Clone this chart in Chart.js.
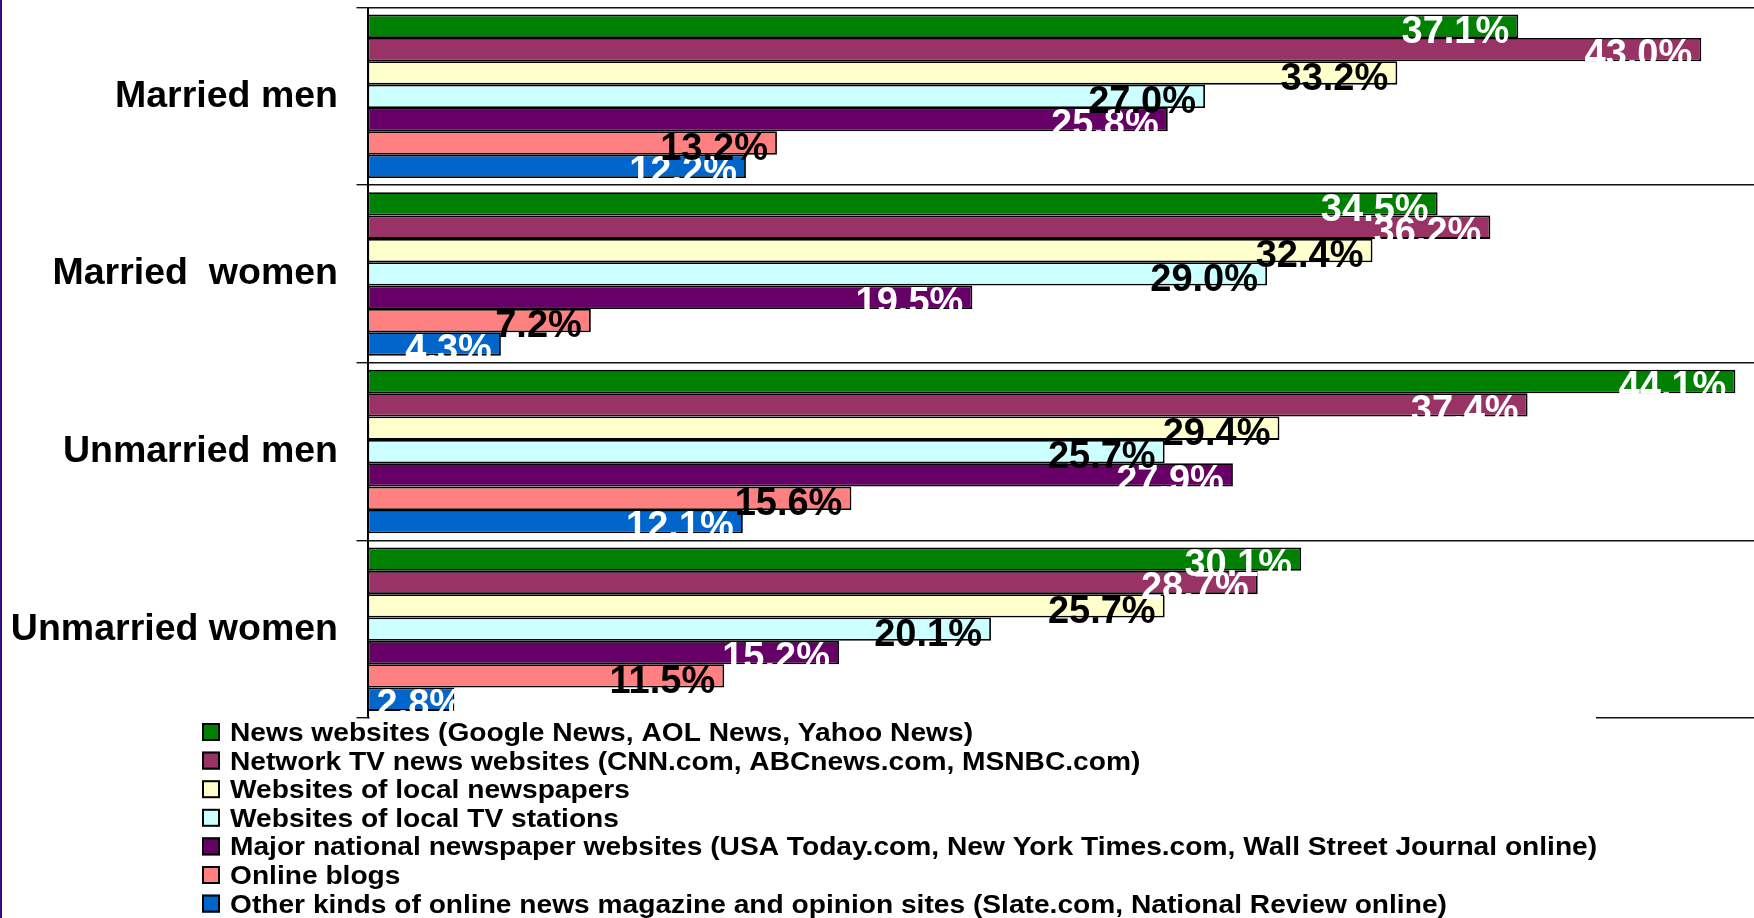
<!DOCTYPE html>
<html>
<head>
<meta charset="utf-8">
<script src="https://cdn.jsdelivr.net/npm/chart.js@4.4.1/dist/chart.umd.min.js"></script>
<style>
  html, body { margin: 0; padding: 0; background: #fff; }
  #wrap { width: 1754px; height: 918px; position: relative; }
</style>
</head>
<body>
<div id="wrap"><canvas id="newsChart"></canvas></div>
<script>
// --- data ---
const categories = ['Married men', 'Married  women', 'Unmarried men', 'Unmarried women'];
const seriesNames = [
    'News websites (Google News, AOL News, Yahoo News)',
    'Network TV news websites (CNN.com, ABCnews.com, MSNBC.com)',
    'Websites of local newspapers',
    'Websites of local TV stations',
    'Major national newspaper websites (USA Today.com, New York Times.com, Wall Street Journal online)',
    'Online blogs',
    'Other kinds of online news magazine and opinion sites (Slate.com, National Review online)'
];
const newsSites      = [37.1, 34.5, 44.1, 30.1];
const networkTv      = [43.0, 36.2, 37.4, 28.7];
const localPapers    = [33.2, 32.4, 29.4, 25.7];
const localTv        = [27.0, 29.0, 25.7, 20.1];
const nationalPapers = [25.8, 19.5, 27.9, 15.2];
const blogs          = [13.2, 7.2, 15.6, 11.5];
const otherSites     = [12.2, 4.3, 12.1, 2.8];
const xMax = 44.7;

// --- styles ---
const FONT = '"Liberation Sans", Arial, sans-serif';
const barColors = ['#008000', '#993366', '#FFFFCC', '#CCFFFF', '#660066', '#FF8080', '#0066CC'];
const labelColors = ['#fff', '#fff', '#000', '#000', '#fff', '#000', '#fff'];
const allSeries = [newsSites, networkTv, localPapers, localTv, nationalPapers, blogs, otherSites];

// value labels drawn right after each dataset, so later-drawn bars overlap them like the original
const valueLabels = {
    id: 'valueLabels',
    afterDatasetDraw(chart, args) {
        const { ctx } = chart;
        const i = args.index;
        ctx.save();
        ctx.font = 'bold 38px ' + FONT;
        ctx.fillStyle = labelColors[i];
        ctx.textAlign = 'right';
        ctx.textBaseline = 'alphabetic';
        args.meta.data.forEach((bar, j) => {
            const txt = allSeries[i][j].toFixed(1) + '%';
            const w = ctx.measureText(txt).width;
            const right = Math.max(bar.x - 9, bar.base + 9 + w);
            ctx.fillText(txt, right, bar.y + 16.8);
        });
        ctx.restore();
    }
};

const pageDecor = {
    id: 'pageDecor',
    beforeDraw(chart) {
        const { ctx } = chart;
        ctx.save();
        ctx.fillStyle = '#fff';
        ctx.fillRect(0, 0, chart.width, chart.height);
        ctx.fillStyle = '#350c7e';
        ctx.fillRect(0, 0, 2, chart.height);
        ctx.restore();
    },
    afterDraw(chart) {
        const { ctx, chartArea } = chart;
        ctx.save();
        // legend box background (hides part of the bottom gridline)
        ctx.fillStyle = '#fff';
        ctx.fillRect(chartArea.left + 2, chartArea.bottom - 4, 1596 - chartArea.left - 2, chart.height);
        const rowH = 28.6;
        const y0 = chartArea.bottom + 14;
        chart.data.datasets.forEach((ds, i) => {
            const cy = y0 + i * rowH;
            ctx.fillStyle = ds.backgroundColor;
            ctx.fillRect(202, cy - 9, 18, 18);
            ctx.strokeStyle = '#000';
            ctx.lineWidth = 2;
            ctx.strokeRect(203, cy - 8, 16, 16);
            ctx.fillStyle = '#000';
            ctx.font = 'bold 25px ' + FONT;
            ctx.textBaseline = 'alphabetic';
            ctx.textAlign = 'left';
            ctx.save();
            ctx.translate(230, cy + 9);
            ctx.scale(1.126, 1);
            ctx.fillText(ds.label, 0, 0);
            ctx.restore();
        });
        ctx.restore();
    }
};

new Chart(document.getElementById('newsChart'), {
    type: 'bar',
    data: {
        labels: categories,
        datasets: allSeries.map((vals, i) => ({
            label: seriesNames[i],
            data: vals,
            backgroundColor: barColors[i],
            borderColor: '#000',
            borderWidth: 1.8,
            borderSkipped: false,
            categoryPercentage: 0.92,
            barPercentage: 1.0
        }))
    },
    options: {
        indexAxis: 'y',
        responsive: true, maintainAspectRatio: false,
        animation: false,
        layout: { padding: { top: 7.5, right: 0, bottom: 200, left: 0 } },
        plugins: { legend: { display: false }, tooltip: { enabled: false } },
        scales: {
            x: { display: false, min: 0, max: xMax },
            y: {
                grid: { color: '#111', lineWidth: 1.4, tickLength: 11, tickColor: '#111' },
                border: { color: '#000', width: 2 },
                ticks: { color: '#000', padding: 18.5, font: { family: FONT, size: 37.5, weight: 'bold' } },
                afterFit: (scale) => {
                    scale.width = 367.5;
                    scale.paddingTop = 0;
                    scale.paddingBottom = 0;
                }
            }
        }
    },
    plugins: [pageDecor, valueLabels]
});
</script>
</body>
</html>
